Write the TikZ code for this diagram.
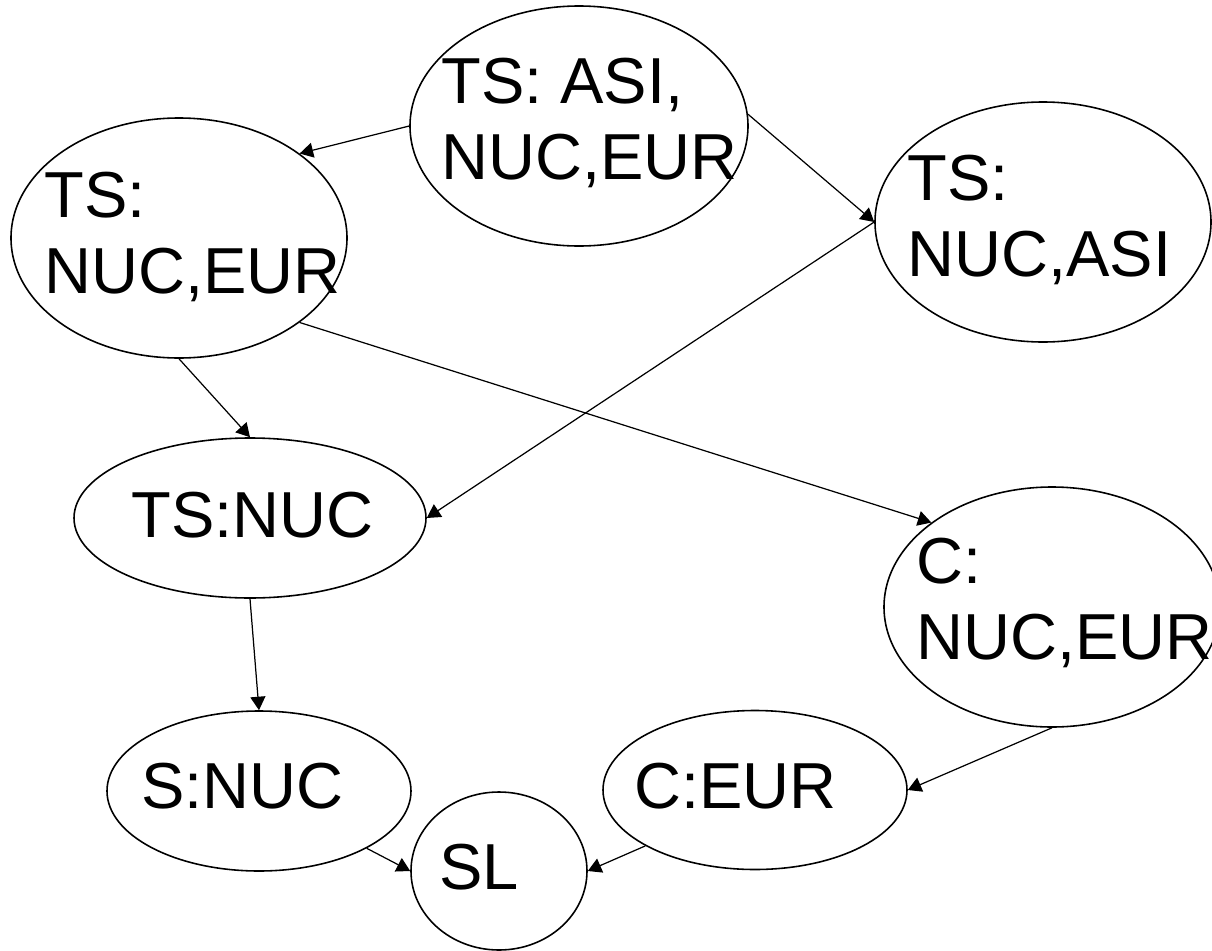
\documentclass[tikz,border=0pt]{standalone}
\usepackage{fontspec}
\setmainfont{Liberation Sans}
\usetikzlibrary{arrows.meta, shapes.geometric}

\begin{document}
\begin{tikzpicture}[
  font=\fontsize{37pt}{43.2pt}\selectfont,
  state/.style={draw, ellipse, line width=0.9pt, inner sep=0pt},
  lbl/.style={inner sep=0pt, align=left},
  arrow/.style={-{Triangle[length=2.7mm, width=3mm]}, line width=0.7pt}
]
\useasboundingbox (0,0) rectangle (24.24,-19.02);
\node[state, minimum width=6.76cm, minimum height=4.80cm] (tsall) at (11.58,-2.52) {};
\node[state, minimum width=6.72cm, minimum height=4.80cm] (tsne) at (3.58,-4.76) {};
\node[state, minimum width=6.72cm, minimum height=4.80cm] (tsna) at (20.86,-4.44) {};
\node[state, minimum width=7.04cm, minimum height=3.20cm] (tsn) at (5.00,-10.36) {};
\node[state, minimum width=6.72cm, minimum height=4.80cm] (cne) at (21.04,-12.14) {};
\node[state, minimum width=6.08cm, minimum height=3.20cm] (sn) at (5.18,-15.82) {};
\node[state, minimum width=3.52cm, minimum height=3.16cm] (sl) at (9.98,-17.42) {};
\node[state, minimum width=6.08cm, minimum height=3.18cm] (ce) at (15.10,-15.80) {};

\node[lbl, anchor=north west] (tsall-t) at (8.82,-1.16) {TS: ASI,\\NUC,EUR};
\node[lbl, anchor=north west] (tsne-t) at (0.88,-3.44) {TS:\\NUC,EUR};
\node[lbl, anchor=north west] (tsna-t) at (18.14,-3.10) {TS:\\NUC,ASI};
\node[lbl, anchor=base west] (tsn-t) at (2.62,-10.74) {TS:NUC};
\node[lbl, anchor=north west] (cne-t) at (18.32,-10.76) {C:\\NUC,EUR};
\node[lbl, anchor=base west] (sn-t) at (2.82,-16.16) {S:NUC};
\node[lbl, anchor=base west] (sl-t) at (8.78,-17.78) {SL};
\node[lbl, anchor=base west] (ce-t) at (12.68,-16.16) {C:EUR};

\draw[arrow] (tsall.west) -- (tsne.35);
\draw[arrow] (tsall.4) -- (tsna.west);
\draw[arrow] (tsne.south) -- (tsn.north);
\draw[arrow] (tsna.west) -- (tsn.east);
\draw[arrow] (tsne.-35) -- (cne.145);
\draw[arrow] (tsn.south) -- (sn.north);
\draw[arrow] (cne.south) -- (ce.east);
\draw[arrow] (sn.-28) -- (sl.west);
\draw[arrow] (ce.207) -- (sl.east);
\end{tikzpicture}
\end{document}
